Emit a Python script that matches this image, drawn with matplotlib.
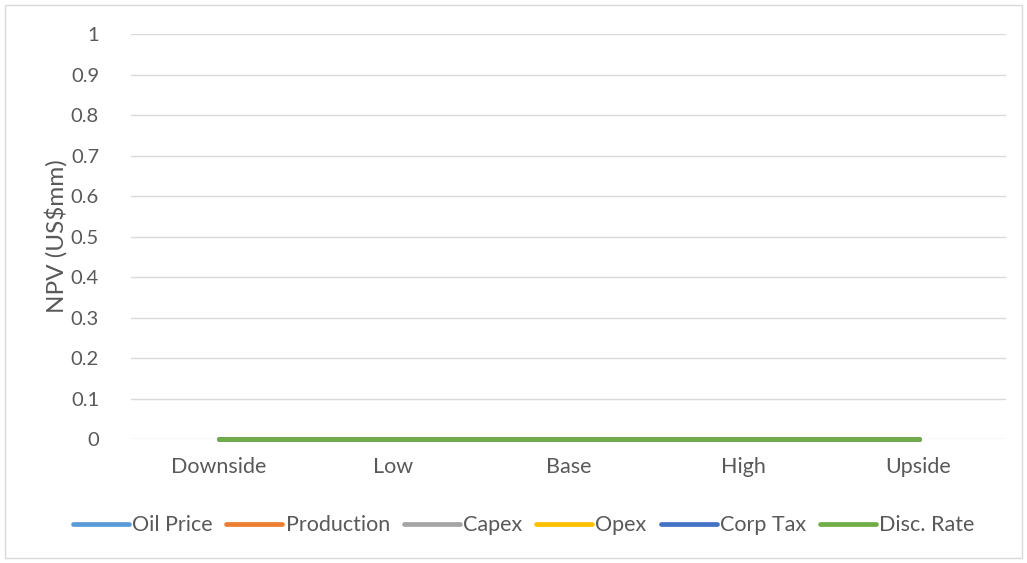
import matplotlib.pyplot as plt
from matplotlib.patches import Rectangle

scenarios = ['Downside', 'Low', 'Base', 'High', 'Upside']
series_names = ['Oil Price', 'Production', 'Capex', 'Opex', 'Corp Tax', 'Disc. Rate']
oil_price = [0, 0, 0, 0, 0]
production = [0, 0, 0, 0, 0]
capex = [0, 0, 0, 0, 0]
opex = [0, 0, 0, 0, 0]
corp_tax = [0, 0, 0, 0, 0]
disc_rate = [0, 0, 0, 0, 0]
series_values = [oil_price, production, capex, opex, corp_tax, disc_rate]
colors = ['#5B9BD5', '#ED7D31', '#A5A5A5', '#FFC000', '#4472C4', '#70AD47']

plt.rcParams['font.family'] = ['Lato', 'DejaVu Sans']
text_color = '#595959'

fig = plt.figure(figsize=(10.27, 5.63), dpi=100)
ax = fig.add_axes([0.1276, 0.2202, 0.852, 0.7194])

# outer chart border like Excel
fig.patches.append(Rectangle((5 / 1027, 5 / 563), 1017 / 1027, 553 / 563,
                             transform=fig.transFigure, fill=False,
                             edgecolor='#D9D9D9', linewidth=1))

x = list(range(len(scenarios)))
for name, vals, c in zip(series_names, series_values, colors):
    ax.plot(x, vals, color=c, linewidth=3.4, solid_capstyle='round', label=name,
            zorder=3, clip_on=False)

ax.set_xlim(-0.5, len(scenarios) - 0.5)
ax.set_ylim(0, 1)
ax.set_yticks([i / 10 for i in range(11)])
ax.set_yticklabels(['0'] + [f'0.{i}' for i in range(1, 10)] + ['1'])
ax.set_xticks(x)
ax.set_xticklabels(scenarios)
ax.grid(axis='y', color='#D9D9D9', linewidth=1)
ax.set_axisbelow(True)
for s in ax.spines.values():
    s.set_visible(False)
ax.tick_params(length=0, colors=text_color)
ax.tick_params(axis='y', pad=23, labelsize=14.5)
ax.tick_params(axis='x', pad=13, labelsize=15.5)

ax.set_ylabel('NPV (US$mm)', fontsize=17.5, color=text_color, labelpad=2)

ax.legend(loc='center', bbox_to_anchor=(0.4486, -0.213), ncol=6, frameon=False,
          fontsize=15.5, labelcolor=text_color, handlelength=2.6, handletextpad=0.15,
          columnspacing=0.65)

fig.savefig('out.png', dpi=100)
